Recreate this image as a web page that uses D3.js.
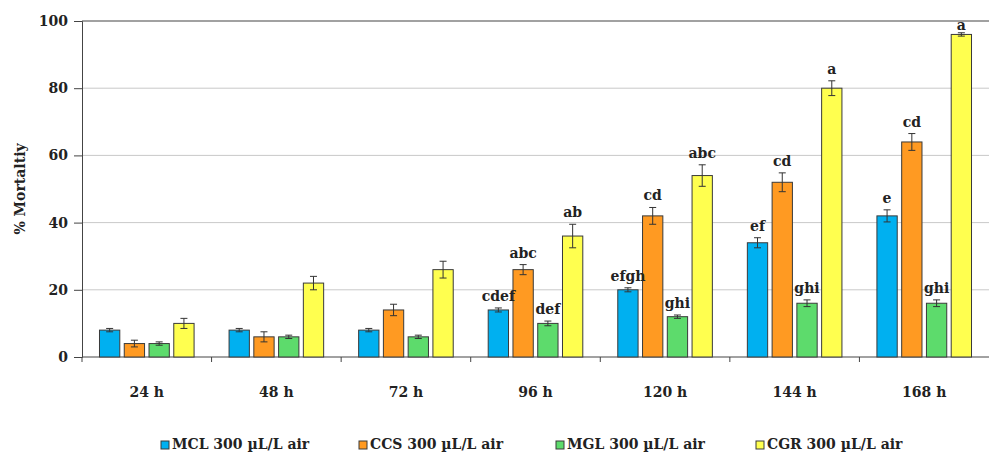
<!DOCTYPE html>
<html>
<head>
<meta charset="utf-8">
<script src="https://cdn.jsdelivr.net/npm/d3@7"></script>
<style>
  body { margin: 0; background: #fff; }
  text { font-family: "DejaVu Serif", serif; font-weight: bold; }
</style>
</head>
<body>
<svg id="chart" width="989" height="452"></svg>
<script>
// data
var times = ["24 h", "48 h", "72 h", "96 h", "120 h", "144 h", "168 h"];
var seriesNames = ["MCL 300 \u00b5L/L air", "CCS 300 \u00b5L/L air", "MGL 300 \u00b5L/L air", "CGR 300 \u00b5L/L air"];
var colors = ["#00b0f0", "#ff9a22", "#5ddb6c", "#ffff4f"];

var mcl = [8, 8, 8, 14, 20, 34, 42];
var ccs = [4, 6, 14, 26, 42, 52, 64];
var mgl = [4, 6, 6, 10, 12, 16, 16];
var cgr = [10, 22, 26, 36, 54, 80, 96];

var mclErr = [0.5, 0.5, 0.5, 0.6, 0.6, 1.5, 1.8];
var ccsErr = [1.0, 1.5, 1.7, 1.5, 2.5, 2.8, 2.5];
var mglErr = [0.5, 0.5, 0.5, 0.7, 0.5, 1.0, 1.0];
var cgrErr = [1.5, 2.0, 2.5, 3.5, 3.2, 2.2, 0.5];

var mclLbl = ["", "", "", "cdef", "efgh", "ef", "e"];
var ccsLbl = ["", "", "", "abc", "cd", "cd", "cd"];
var mglLbl = ["", "", "", "def", "ghi", "ghi", "ghi"];
var cgrLbl = ["", "", "", "ab", "abc", "a", "a"];

var yTicks = [0, 20, 40, 60, 80, 100];

var values = [mcl, ccs, mgl, cgr];
var errs = [mclErr, ccsErr, mglErr, cgrErr];
var lbls = [mclLbl, ccsLbl, mglLbl, cgrLbl];

var svg = d3.select("#chart");
var plotLeft = 82, plotRight = 989, plotTop = 21, plotBottom = 357;

var x0 = d3.scaleBand()
	.domain(times)
	.range([plotLeft, plotRight])
	.paddingInner(0.27)
	.paddingOuter(0.135);

var x1 = d3.scaleBand()
	.domain(d3.range(4))
	.range([0, x0.bandwidth()])
	.paddingInner(0.18);

var y = d3.scaleLinear()
	.domain([0, 100])
	.range([plotBottom, plotTop]);

// gridlines
svg.append("g")
	.selectAll("line")
	.data(yTicks.slice(1))
	.enter()
	.append("line")
	.attr("x1", plotLeft)
	.attr("x2", plotRight)
	.attr("y1", function(d) { return y(d); })
	.attr("y2", function(d) { return y(d); })
	.style("stroke", function(d) { return d == 100 ? "#444" : "#c9c9c9"; })
	.style("stroke-width", function(d) { return d == 100 ? 1.2 : 1; });

// y axis
var yAxis = svg.append("g")
	.attr("transform", "translate(" + plotLeft + ",0)")
	.call(d3.axisLeft(y).tickValues(yTicks).tickSize(8).tickPadding(6));
yAxis.select(".domain").style("stroke", "#444");
yAxis.selectAll(".tick line").style("stroke", "#444");
yAxis.selectAll("text")
	.style("font-size", "14px")
	.style("fill", "#222")
	.style("font-family", "DejaVu Serif")
	.style("font-weight", "bold");

svg.append("text")
	.attr("transform", "translate(25," + ((plotTop + plotBottom) / 2) + ") rotate(-90)")
	.attr("text-anchor", "middle")
	.style("font-size", "14px")
	.style("fill", "#222")
	.text("% Mortaltiy");

// x axis
svg.append("line")
	.attr("x1", plotLeft).attr("x2", plotRight)
	.attr("y1", plotBottom).attr("y2", plotBottom)
	.style("stroke", "#444");

var bounds = times.map(function(t) { return x0(t) - x0.step() * x0.paddingInner() / 2; });
svg.append("g")
	.selectAll("line")
	.data(bounds)
	.enter()
	.append("line")
	.attr("x1", function(d) { return d; })
	.attr("x2", function(d) { return d; })
	.attr("y1", plotBottom)
	.attr("y2", plotBottom + 5)
	.style("stroke", "#444");

svg.append("g")
	.selectAll("text")
	.data(times)
	.enter()
	.append("text")
	.attr("x", function(d) { return x0(d) + x0.bandwidth() / 2; })
	.attr("y", 397)
	.attr("text-anchor", "middle")
	.style("font-size", "14px")
	.style("fill", "#222")
	.text(function(d) { return d; });

// bars
var cells = [];
values.forEach(function(arr, s) {
	arr.forEach(function(v, i) {
		cells.push({ s: s, t: times[i], v: v, e: errs[s][i], l: lbls[s][i] });
	});
});

svg.append("g")
	.selectAll("rect")
	.data(cells)
	.enter()
	.append("rect")
	.attr("x", function(d) { return x0(d.t) + x1(d.s); })
	.attr("y", function(d) { return y(d.v); })
	.attr("width", x1.bandwidth())
	.attr("height", function(d) { return y(0) - y(d.v); })
	.style("fill", function(d) { return colors[d.s]; })
	.style("stroke", "#3a3a3a")
	.style("stroke-width", 1);

// error bars
var eb = svg.append("g").style("stroke", "#333").style("stroke-width", 1);
cells.forEach(function(d) {
	var cx = x0(d.t) + x1(d.s) + x1.bandwidth() / 2;
	eb.append("line").attr("x1", cx).attr("x2", cx)
		.attr("y1", y(d.v + d.e)).attr("y2", y(d.v - d.e));
	eb.append("line").attr("x1", cx - 3.5).attr("x2", cx + 3.5)
		.attr("y1", y(d.v + d.e)).attr("y2", y(d.v + d.e));
	eb.append("line").attr("x1", cx - 3.5).attr("x2", cx + 3.5)
		.attr("y1", y(d.v - d.e)).attr("y2", y(d.v - d.e));
});

// letters
svg.append("g")
	.selectAll("text")
	.data(cells.filter(function(d) { return d.l != ""; }))
	.enter()
	.append("text")
	.attr("x", function(d) { return x0(d.t) + x1(d.s) + x1.bandwidth() / 2; })
	.attr("y", function(d) { return y(d.v + d.e) - (d.v > 90 ? 3 : 7); })
	.attr("text-anchor", "middle")
	.style("font-size", "14px")
	.style("fill", "#222")
	.text(function(d) { return d.l; });

// legend
var legendX = [161, 359, 556, 756];
var lg = svg.append("g")
	.selectAll("g")
	.data(seriesNames)
	.enter()
	.append("g")
	.attr("transform", function(d, i) { return "translate(" + legendX[i] + ",440)"; });
lg.append("rect")
	.attr("y", 1)
	.attr("width", 8).attr("height", 8)
	.style("fill", function(d, i) { return colors[i]; })
	.style("stroke", "#3a3a3a");
lg.append("text")
	.attr("x", 11)
	.attr("y", 9)
	.style("font-size", "14px")
	.style("fill", "#222")
	.text(function(d) { return d; });
</script>
</body>
</html>
